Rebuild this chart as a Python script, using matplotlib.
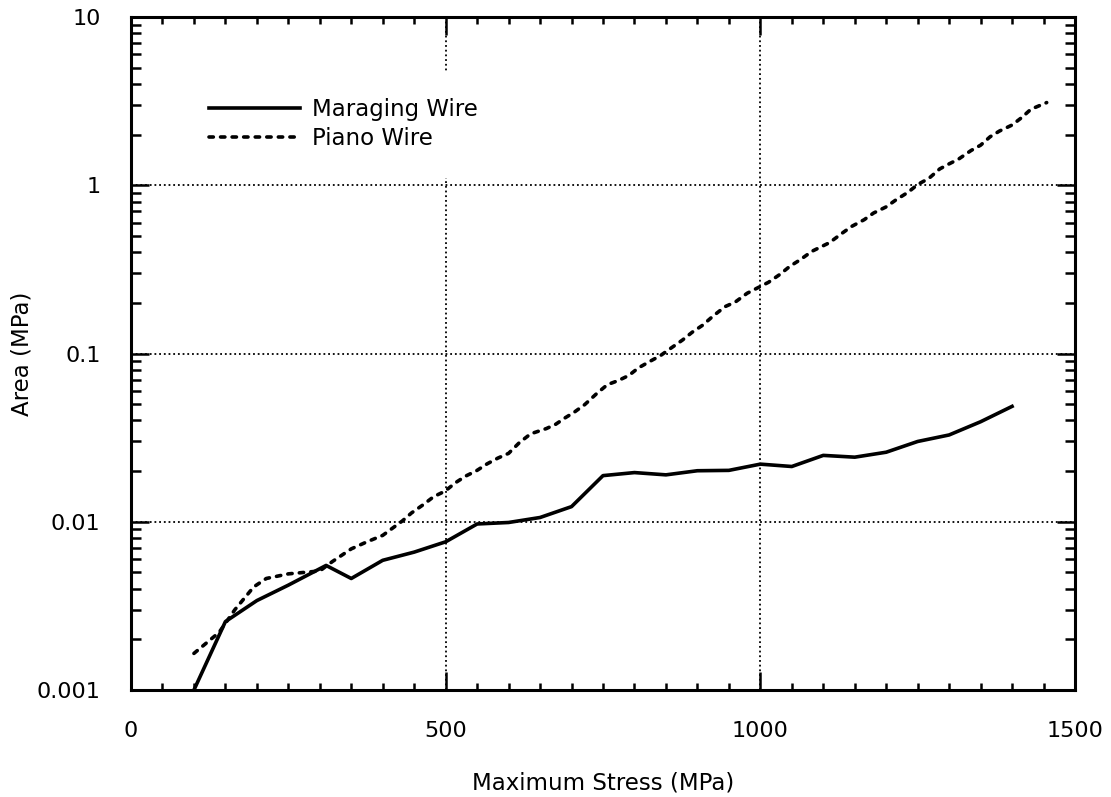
import numpy as np
import matplotlib
matplotlib.use('Agg')
import matplotlib.pyplot as plt
from matplotlib.ticker import FixedLocator, LogLocator, NullFormatter

# Data

maraging_stress = [100, 150, 200, 250, 310, 350, 400, 450, 500, 550, 600, 650,
                   700, 750, 800, 850, 900, 950, 1000, 1050, 1100, 1150, 1200,
                   1250, 1300, 1350, 1400]
maraging_area = [0.001, 0.00255, 0.0034, 0.0042, 0.0055, 0.0046, 0.0059, 0.0066,
                 0.0076, 0.0097, 0.0099, 0.0106, 0.0123, 0.0188, 0.0196, 0.019,
                 0.0201, 0.0202, 0.022, 0.0213, 0.0248, 0.0242, 0.0259, 0.0300,
                 0.0328, 0.0393, 0.0485]

piano_stress = [100, 140, 165, 195, 215, 250, 300, 320, 350, 375, 400, 431, 446,
                464, 481, 499, 516, 532, 549, 566, 583, 600, 617, 635, 660, 675,
                690, 704, 721, 740, 757, 774, 791, 806, 825, 841, 857, 876, 892,
                908, 925, 944, 960, 979, 997, 1013, 1031, 1047, 1063, 1082, 1110,
                1130, 1145, 1165, 1180, 1200, 1215, 1235, 1250, 1268, 1285, 1300,
                1315, 1335, 1350, 1365, 1380, 1400, 1415, 1430, 1455]
piano_area = [0.00165, 0.0022, 0.003, 0.0041, 0.0046, 0.0049, 0.0051, 0.0058,
              0.0069, 0.0076, 0.0083, 0.0101, 0.0113, 0.0126, 0.0141, 0.0152,
              0.0171, 0.0187, 0.0201, 0.0221, 0.0239, 0.0255, 0.0295, 0.0333,
              0.0358, 0.038, 0.0415, 0.0447, 0.0497, 0.0578, 0.0653, 0.069,
              0.074, 0.082, 0.090, 0.097, 0.107, 0.12, 0.134, 0.147, 0.167,
              0.19, 0.202, 0.228, 0.247, 0.265, 0.295, 0.33, 0.36, 0.405, 0.456,
              0.519, 0.569, 0.624, 0.684, 0.744, 0.816, 0.91, 1.01, 1.10, 1.25,
              1.34, 1.43, 1.61, 1.73, 1.94, 2.10, 2.28, 2.52, 2.83, 3.1]

x_ticks = [0, 500, 1000, 1500]
y_ticks = [0.001, 0.01, 0.1, 1, 10]
y_tick_labels = ['0.001', '0.01', '0.1', '1', '10']

plt.rcParams['font.family'] = ['DejaVu Sans']

fig = plt.figure(figsize=(11.11, 7.97), dpi=100)
ax = fig.add_axes([131 / 1111, 1 - 690 / 797, 944 / 1111, 673 / 797])

ax.plot(maraging_stress, maraging_area, color='black', lw=2.6,
        solid_joinstyle='round', label='Maraging Wire')
ax.plot(piano_stress, piano_area, color='black', lw=2.6,
        linestyle=(0, (1.2, 2.0)), dash_capstyle='round', label='Piano Wire')

ax.set_yscale('log')
ax.set_xlim(0, 1500)
ax.set_ylim(0.001, 10)

ax.xaxis.set_major_locator(FixedLocator(x_ticks))
ax.xaxis.set_minor_locator(FixedLocator(np.arange(0, 1501, 50)))
ax.set_xticklabels([str(t) for t in x_ticks])
ax.yaxis.set_major_locator(FixedLocator(y_ticks))
ax.yaxis.set_minor_locator(LogLocator(base=10, subs=np.arange(2, 10), numticks=20))
ax.yaxis.set_minor_formatter(NullFormatter())
ax.set_yticklabels(y_tick_labels)

ax.tick_params(which='both', direction='in', top=True, right=True,
               width=1.8, color='black')
ax.tick_params(which='major', length=13, labelsize=16)
ax.tick_params(axis='x', which='major', pad=22)
ax.tick_params(axis='y', which='major', pad=22)
ax.tick_params(axis='x', which='minor', length=5)
ax.tick_params(axis='y', which='minor', length=7)

for s in ax.spines.values():
    s.set_linewidth(2.2)

ax.grid(True, which='major', color='black', linestyle=(0, (1, 1.6)), lw=1.3)

ax.set_xlabel('Maximum Stress (MPa)', fontsize=16.5, labelpad=22)
ax.set_ylabel('Area (MPa)', fontsize=16.5, labelpad=2)

leg = ax.legend(loc='upper left', bbox_to_anchor=(0.041, 0.937), fontsize=16.5,
                handlelength=4.0, handletextpad=0.5, labelspacing=0.25,
                borderpad=1.2, frameon=True, fancybox=False)
leg.get_frame().set_edgecolor('none')
leg.get_frame().set_facecolor('white')
leg.get_frame().set_alpha(1.0)

fig.savefig('out.png', dpi=100)
